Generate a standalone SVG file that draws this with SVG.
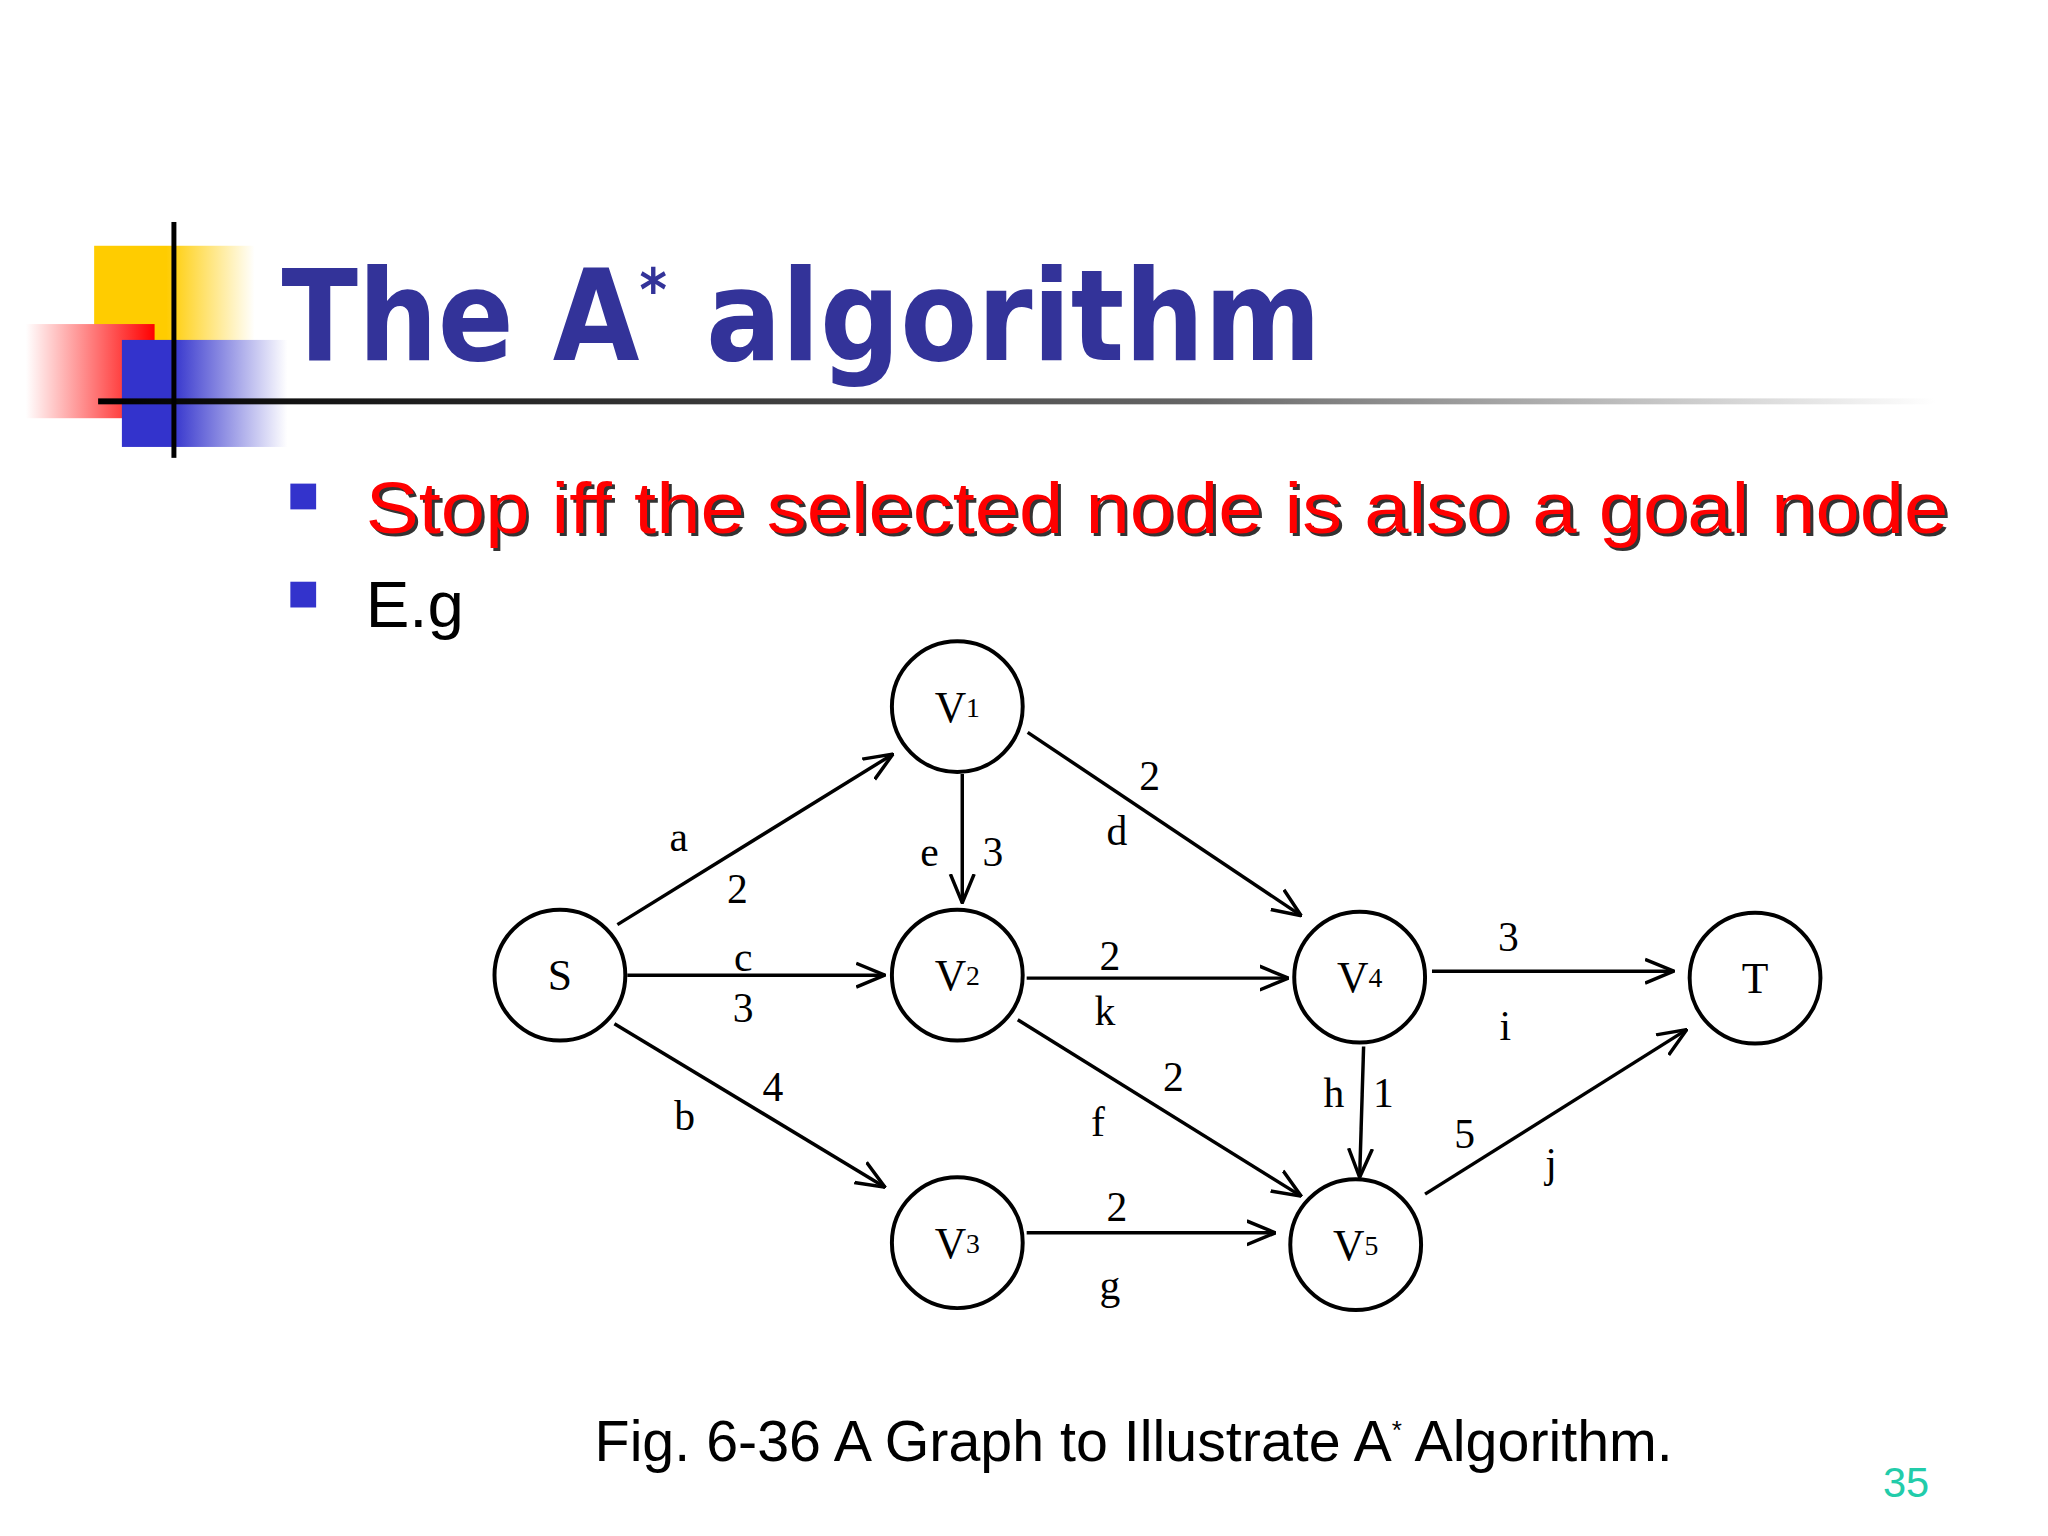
<svg xmlns="http://www.w3.org/2000/svg" width="2048" height="1536" viewBox="0 0 2048 1536">
<defs>
<linearGradient id="gy" x1="0" x2="1" y1="0" y2="0"><stop offset="0" stop-color="#ffcc00"/><stop offset="0.45" stop-color="#ffcc00"/><stop offset="1" stop-color="#ffffff"/></linearGradient>
<linearGradient id="gr" x1="1" x2="0" y1="0" y2="0"><stop offset="0" stop-color="#ff0000"/><stop offset="1" stop-color="#ffffff"/></linearGradient>
<linearGradient id="gb" x1="0" x2="1" y1="0" y2="0"><stop offset="0" stop-color="#3333cc"/><stop offset="0.3" stop-color="#3333cc"/><stop offset="1" stop-color="#ffffff"/></linearGradient>
<linearGradient id="gl" x1="0" x2="1" y1="0" y2="0"><stop offset="0" stop-color="#000"/><stop offset="0.6" stop-color="#666"/><stop offset="1" stop-color="#fff"/></linearGradient>
<marker id="ah" viewBox="0 0 30 30" refX="29" refY="15" markerWidth="30" markerHeight="30" markerUnits="userSpaceOnUse" orient="auto"><path d="M0,3 L29,15 L0,27" fill="none" stroke="#000" stroke-width="3.5"/></marker>
<style>
.n{fill:#fff;stroke:#000;stroke-width:4}
.nl{font-family:"Liberation Serif",serif;font-size:44px;text-anchor:middle;dominant-baseline:central}
.e{stroke:#000;stroke-width:3.5;fill:none;marker-end:url(#ah)}
.l{font-family:"Liberation Serif",serif;font-size:42px;text-anchor:middle;dominant-baseline:central}
</style>
</defs>
<rect width="2048" height="1536" fill="#fff"/>
<g transform="scale(0.991)">
<g id="decor">
<rect x="95" y="248" width="162" height="148" fill="url(#gy)"/>
<rect x="26" y="327" width="130" height="95" fill="url(#gr)"/>
<rect x="123" y="343" width="167" height="108" fill="url(#gb)"/>
<rect x="99" y="402" width="1854" height="6" fill="url(#gl)"/>
<rect x="173" y="224" width="5" height="238" fill="#000"/>
</g>
<text x="284" y="363" font-family="DejaVu Sans,sans-serif" font-weight="bold" font-size="128" fill="#333399" textLength="1049" lengthAdjust="spacingAndGlyphs">The A<tspan dy="-50" font-size="60">*</tspan><tspan dy="50"> algorithm</tspan></text>
<rect x="293" y="488" width="26" height="26" fill="#3333cc"/>
<rect x="293" y="587" width="26" height="26" fill="#3333cc"/>
<text x="372" y="541" font-family="Liberation Sans,sans-serif" font-size="72" fill="#333" textLength="1597" lengthAdjust="spacingAndGlyphs">Stop iff the selected node is also a goal node</text>
<text x="369" y="538" font-family="Liberation Sans,sans-serif" font-size="72" fill="#ff0000" textLength="1597" lengthAdjust="spacingAndGlyphs">Stop iff the selected node is also a goal node</text>
<text x="369" y="633" font-family="Liberation Sans,sans-serif" font-size="66" fill="#000">E.g</text>
<g id="edges">
<line class="e" x1="623" y1="933" x2="901" y2="761"/>
<line class="e" x1="971" y1="781" x2="971" y2="911"/>
<line class="e" x1="1037" y1="739" x2="1313" y2="924"/>
<line class="e" x1="633" y1="984" x2="893" y2="984"/>
<line class="e" x1="1036" y1="987" x2="1300" y2="987"/>
<line class="e" x1="1445" y1="980" x2="1689" y2="980"/>
<line class="e" x1="620" y1="1033" x2="893" y2="1198"/>
<line class="e" x1="1027" y1="1029" x2="1313" y2="1207"/>
<line class="e" x1="1036" y1="1244" x2="1287" y2="1244"/>
<line class="e" x1="1376" y1="1056" x2="1372" y2="1188"/>
<line class="e" x1="1438" y1="1205" x2="1702" y2="1039"/>
<text class="l" x="685" y="845">a</text><text class="l" x="744" y="897">2</text>
<text class="l" x="938" y="860">e</text><text class="l" x="1002" y="860">3</text>
<text class="l" x="1160" y="783">2</text><text class="l" x="1127" y="839">d</text>
<text class="l" x="750" y="966">c</text><text class="l" x="750" y="1017">3</text>
<text class="l" x="1120" y="965">2</text><text class="l" x="1115" y="1020">k</text>
<text class="l" x="1522" y="946">3</text><text class="l" x="1519" y="1035">i</text>
<text class="l" x="780" y="1097">4</text><text class="l" x="691" y="1126">b</text>
<text class="l" x="1184" y="1087">2</text><text class="l" x="1108" y="1132">f</text>
<text class="l" x="1346" y="1103">h</text><text class="l" x="1396" y="1103">1</text>
<text class="l" x="1478" y="1144">5</text><text class="l" x="1565" y="1174">j</text>
<text class="l" x="1127" y="1218">2</text><text class="l" x="1120" y="1297">g</text>
</g>
<g id="S"><circle class="n" cx="565" cy="984" r="66"/><text class="nl" x="565" y="984">S</text></g>
<g id="V1"><circle class="n" cx="966" cy="713" r="66"/><text class="nl" x="966" y="713">V<tspan font-size="28">1</tspan></text></g>
<g id="V2"><circle class="n" cx="966" cy="984" r="66"/><text class="nl" x="966" y="984">V<tspan font-size="28">2</tspan></text></g>
<g id="V3"><circle class="n" cx="966" cy="1254" r="66"/><text class="nl" x="966" y="1254">V<tspan font-size="28">3</tspan></text></g>
<g id="V4"><circle class="n" cx="1372" cy="986" r="66"/><text class="nl" x="1372" y="986">V<tspan font-size="28">4</tspan></text></g>
<g id="V5"><circle class="n" cx="1368" cy="1256" r="66"/><text class="nl" x="1368" y="1256">V<tspan font-size="28">5</tspan></text></g>
<g id="T"><circle class="n" cx="1771" cy="987" r="66"/><text class="nl" x="1771" y="987">T</text></g>
<text x="600" y="1474" font-family="Liberation Sans,sans-serif" font-size="57" fill="#000" textLength="1088" lengthAdjust="spacingAndGlyphs">Fig. 6-36 A Graph to Illustrate A<tspan dy="-22" font-size="26">*</tspan><tspan dy="22"> Algorithm.</tspan></text>
<text x="1900" y="1511" font-family="Liberation Sans,sans-serif" font-size="42" fill="#22ccaa">35</text>
</g>
</svg>
